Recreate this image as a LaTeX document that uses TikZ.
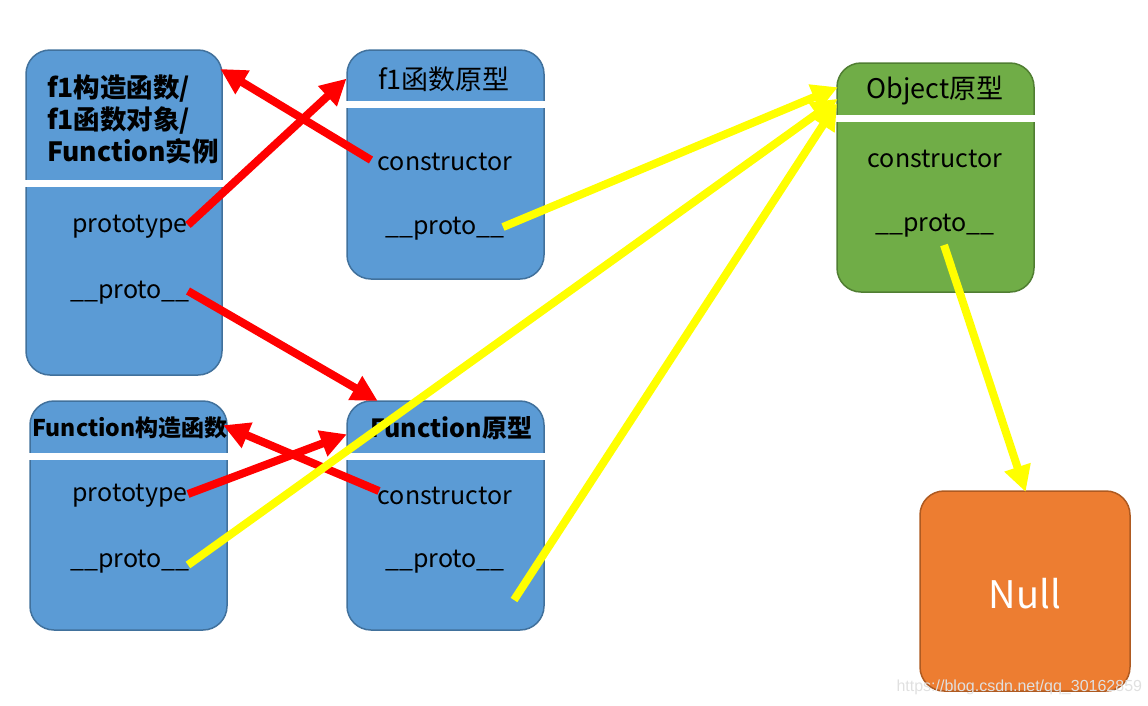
\documentclass[tikz,border=0pt]{standalone}
\usepackage{fontspec}
\setmainfont{Noto Sans CJK SC}
\newfontfamily\wmfont{Liberation Sans}
\usetikzlibrary{arrows.meta}
\definecolor{bluefill}{HTML}{5B9BD5}
\definecolor{blueline}{HTML}{41719C}
\definecolor{greenfill}{HTML}{70AD47}
\definecolor{greenline}{HTML}{507E32}
\definecolor{orangefill}{HTML}{ED7D31}
\definecolor{orangeline}{HTML}{AE5A21}
\definecolor{arrred}{HTML}{FF0000}
\definecolor{arryellow}{HTML}{FFFF00}
\tikzset{
  box/.style={rounded corners=24pt, line width=1.5pt, inner sep=0pt},
  bluebox/.style={box, draw=blueline, fill=bluefill},
  greenbox/.style={box, draw=greenline, fill=greenfill},
  orangebox/.style={box, draw=orangeline, fill=orangefill},
  divider/.style={draw=white, line width=7pt},
  txt/.style={font=\fontsize{25}{30}\selectfont, inner sep=1pt, text=black},
  ttl/.style={font=\fontsize{27}{30}\selectfont, inner sep=1pt, text=black},
  titleb/.style={font=\fontsize{23}{32}\selectfont\bfseries, inner sep=1pt, text=black},
  redarrow/.style={draw=arrred, line width=8pt, -{Triangle[length=26pt,width=26pt]}, shorten >=-2pt},
  yelarrow/.style={draw=arryellow, line width=8pt, -{Triangle[length=26pt,width=26pt]}, shorten >=-2pt},
}
\begin{document}
\begin{tikzpicture}[x=1pt,y=-1pt]
\useasboundingbox (0,0) rectangle (1148,705);
% boxes
\node[bluebox, minimum width=196pt, minimum height=325pt] (A) at (124,212.5) {};
\node[bluebox, minimum width=197pt, minimum height=229pt] (B) at (445.5,164.5) {};
\node[greenbox, minimum width=197pt, minimum height=229pt] (C) at (935.5,177.5) {};
\node[bluebox, minimum width=197pt, minimum height=229pt] (D) at (128.5,515.5) {};
\node[bluebox, minimum width=197pt, minimum height=229pt] (E) at (445.5,515.5) {};
\node[orangebox, minimum width=210pt, minimum height=200pt] (F) at (1025,591) {};
% dividers
\draw[divider] (25,183) -- (223,183);
\draw[divider] (346,104) -- (545,104);
\draw[divider] (836,118) -- (1035,118);
\draw[divider] (29,456) -- (228,456);
\draw[divider] (346,456) -- (545,456);
% texts
\node[titleb, font=\fontsize{26.5}{32}\selectfont\bfseries, anchor=west, align=left] (At) at (46,119) {f1构造函数/\\f1函数对象/\\Function实例};
\node[txt] (Ap) at (130,227) {prototype};
\node[txt] (Ao) at (130,293) {\_\_proto\_\_};
\node[ttl] (Bt) at (444,79) {f1函数原型};
\node[txt] (Bc) at (445,162) {constructor};
\node[txt] (Bo) at (445,229) {\_\_proto\_\_};
\node[ttl] (Ct) at (935,91) {Object原型};
\node[txt] (Cc) at (935,159) {constructor};
\node[txt] (Co) at (935,226) {\_\_proto\_\_};
\node[titleb] (Dt) at (130,428) {Function构造函数};
\node[txt] (Dp) at (130,496) {prototype};
\node[txt] (Do) at (130,562) {\_\_proto\_\_};
\node[titleb, font=\fontsize{25}{32}\selectfont\bfseries] (Et) at (451,428) {Function原型};
\node[txt] (Ec) at (445,496) {constructor};
\node[txt] (Eo) at (445,562) {\_\_proto\_\_};
\node[font=\fontsize{38}{44}\selectfont, text=white] (Ft) at (1025,594) {Null};
% connector ends
\coordinate (s1) at (371,160);
\coordinate (t1) at (222,70);
\coordinate (s2) at (188,225);
\coordinate (t2) at (345,80);
\coordinate (s3) at (188,291);
\coordinate (t3) at (376,400);
\coordinate (s4) at (379,491);
\coordinate (t4) at (225,426);
\coordinate (s5) at (188,494);
\coordinate (t5) at (345,435);
\coordinate (s6) at (503,227);
\coordinate (t6) at (836,88);
\coordinate (s7) at (188,565);
\coordinate (t7) at (836,100);
\coordinate (s8) at (514,600);
\coordinate (t8) at (836,105);
\coordinate (s9) at (944,245);
\coordinate (t9) at (1025,490);
% red arrows
\draw[redarrow] (s1) -- (t1);
\draw[redarrow] (s2) -- (t2);
\draw[redarrow] (s3) -- (t3);
\draw[redarrow] (s4) -- (t4);
\draw[redarrow] (s5) -- (t5);
% yellow arrows
\draw[yelarrow] (s6) -- (t6);
\draw[yelarrow] (s7) -- (t7);
\draw[yelarrow] (s8) -- (t8);
\draw[yelarrow] (s9) -- (t9);
% watermark
\node[font=\wmfont\fontsize{16}{18}\selectfont, text=black!12, anchor=west] (wm) at (893,687) {https://blog.csdn.net/qq\_30162859};
\end{tikzpicture}
\end{document}
